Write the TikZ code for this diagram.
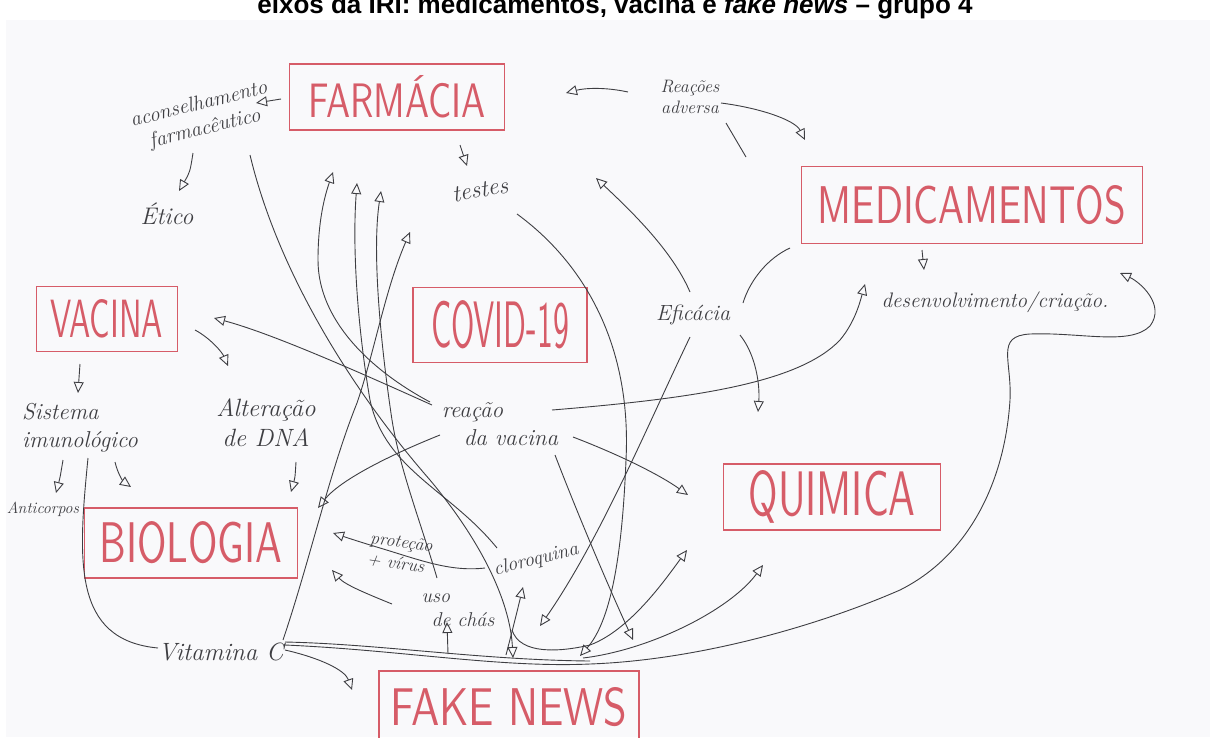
\documentclass[tikz,border=0pt]{standalone}
\usepackage{fontspec}
\usepackage{graphicx}
\usetikzlibrary{arrows.meta,calc}
\newfontfamily\titlefont{Liberation Sans}
\definecolor{ink}{RGB}{62,62,66}
\definecolor{redpen}{RGB}{214,92,104}
\definecolor{paper}{RGB}{249,249,251}
\tikzset{
  topic/.style={draw=redpen, line width=1.2pt, inner sep=0pt, text=redpen},
  note/.style={text=ink, inner sep=1pt, align=center},
  link/.style={draw=ink, line width=0.9pt, -{Triangle[open,length=11pt,width=10pt,line width=0.9pt]}},
  plain/.style={draw=ink, line width=0.9pt},
}
% topic label stretched to a given width and cap height
\newcommand{\topictext}[3]{\resizebox{#1pt}{#2pt}{\sffamily #3}}
\newcommand{\hand}[1]{\itshape\fontsize{#1}{1.2\dimexpr#1pt\relax}\selectfont}
\begin{document}
\begin{tikzpicture}[x=1pt,y=-1pt]
\useasboundingbox (0,0) rectangle (1210,737);
\fill[white] (0,0) rectangle (1210,737);
\fill[paper] (6,20) rectangle (1210,737);

\node[anchor=base, font=\titlefont\bfseries\fontsize{26}{26}\selectfont] (title) at (615,13)
  {eixos da IRI: medicamentos, vacina e \textit{fake news} – grupo 4};

% topics
\node[topic, minimum width=215pt, minimum height=66pt] (farm) at (397,97) {\topictext{177}{42}{FARMÁCIA}};
\node[topic, minimum width=341pt, minimum height=77pt] (medic) at (972,205) {\topictext{308}{38}{MEDICAMENTOS}};
\node[topic, minimum width=141pt, minimum height=65pt] (vacina) at (107,319) {\topictext{112}{38}{VACINA}};
\node[topic, minimum width=174pt, minimum height=75pt] (covid) at (500,325) {\topictext{138}{47}{COVID-19}};
\node[topic, minimum width=217pt, minimum height=66pt] (quim) at (832,497) {\topictext{167}{45}{QUIMICA}};
\node[topic, minimum width=213pt, minimum height=70pt] (bio) at (191,543) {\topictext{183}{41}{BIOLOGIA}};
\node[topic, minimum width=260pt, minimum height=72pt] (fake) at (509,707) {\topictext{237}{38}{FAKE NEWS}};

% notes
\node[note, rotate=14, font=\hand{21}] (acons) at (202,117) {aconselhamento\\farmacêutico};
\node[note, font=\hand{24}] (etico) at (167,214) {Ético};
\node[note, rotate=10, font=\hand{24}] (testes) at (480,190) {testes};
\node[note, font=\hand{18}] (reacadv) at (690,97) {Reações\\adversa};
\node[note, font=\hand{22}] (efic) at (693,315) {Eficácia};
\node[note, font=\hand{21}] (desenv) at (995,302) {desenvolvimento/criação.};
\node[note, font=\hand{23}, align=left] (sist) at (80,428) {Sistema\\imunológico};
\node[note, font=\hand{25}] (alter) at (266,423) {Alteração\\de DNA};
\node[note, font=\hand{23}, align=left] (reacvac) at (500,424) {reação\\\hspace*{22pt}da vacina};
\node[note, font=\hand{16}] (antic) at (43,509) {Anticorpos};
\node[note, font=\hand{25}] (vitc) at (221,652) {Vitamina C};
\node[note, rotate=-8, font=\hand{18}, align=left] (protec) at (400,553) {proteção\\+ vírus};
\node[note, rotate=14, font=\hand{20}] (cloro) at (536,560) {cloroquina};
\node[note, font=\hand{20}, align=left] (chas) at (458,610) {uso\\\hspace*{10pt}de chás};

% links around Farmácia
\draw[link] ($(farm)+(-116,2)$) -- ($(acons)+(54,-14)$);
\draw[link] ($(acons)+(-9,36)$) .. controls (190,172) .. ($(etico)+(12,-23)$);
\draw[link] ($(farm)+(63,48)$) -- ($(testes)+(-13,-24)$);
\draw[link] ($(reacadv)+(-62,-5)$) .. controls (605,87) and (585,88) .. ($(farm)+(169,-4)$);
\draw[link] ($(reacadv)+(31,6)$) .. controls (760,108) and (795,120) .. ($(medic)+(-167,-65)$);
\draw[plain] ($(reacadv)+(36,26)$) -- ($(reacadv)+(56,60)$);

% links around Medicamentos and Eficácia
\draw[link] ($(medic)+(-50,45)$) -- ($(desenv)+(-71,-32)$);
\draw[plain] ($(efic)+(50,-12)$) .. controls (750,280) and (768,258) .. ($(medic)+(-182,43)$);
\draw[link] ($(efic)+(-3,-23)$) .. controls (672,250) and (630,210) .. ($(testes)+(116,-12)$);
\draw[link] ($(efic)+(47,20)$) .. controls (756,355) and (760,385) .. ($(quim)+(-74,-85)$);
\draw[link] ($(efic)+(-3,22)$) .. controls (650,420) and (600,540) .. ($(fake)+(31,-81)$);

% links around Vacina
\draw[link] ($(reacvac)+(-68,-19)$) .. controls (350,368) and (270,333) .. ($(vacina)+(107,-1)$);
\draw[link] ($(vacina)+(88,11)$) .. controls (210,338) and (222,352) .. ($(alter)+(-38,-57)$);
\draw[link] ($(vacina)+(-27,45)$) .. controls (79,378) .. ($(sist)+(-2,-35)$);
\draw[link] ($(sist)+(-17,32)$) .. controls (60,478) .. ($(antic)+(13,-16)$);
\draw[link] ($(sist)+(35,34)$) .. controls (118,475) and (124,482) .. ($(bio)+(-60,-56)$);
\draw[link] ($(alter)+(30,39)$) .. controls (295,478) .. ($(bio)+(100,-51)$);
\draw[plain] ($(sist)+(8,30)$) .. controls (78,560) and (72,640) .. ($(vitc)+(-63,-4)$);

% links from Vitamina C
\draw[link] ($(vitc)+(64,-2)$) .. controls (320,658) and (345,670) .. ($(fake)+(-157,-17)$);
\draw[link] ($(vitc)+(64,-7)$) .. controls (400,650) and (500,668) .. (590,664)
  .. controls (700,660) and (820,625) .. (900,590)
  .. controls (970,555) and (1005,480) .. (1010,400)
  .. controls (1012,360) and (995,336) .. (1030,334)
  .. controls (1080,332) and (1130,346) .. (1150,326)
  .. controls (1166,305) and (1140,282) .. ($(desenv)+(125,-29)$);
\draw[plain] ($(vitc)+(64,-10)$) .. controls (380,644) and (480,660) .. ($(fake)+(81,-46)$);
\draw[link] ($(vitc)+(62,-12)$) .. controls (310,560) and (330,470) .. (357,403)
  .. controls (375,350) and (385,290) .. ($(farm)+(13,135)$);

% links from reação da vacina
\draw[link] ($(reacvac)+(-60,11)$) .. controls (390,455) and (340,480) .. ($(bio)+(127,-35)$);
\draw[link] ($(reacvac)+(52,-14)$) .. controls (700,398) and (800,382) .. (840,340)
  .. controls (855,322) and (860,302) .. ($(desenv)+(-130,-18)$);
\draw[link] ($(reacvac)+(73,13)$) .. controls (620,455) and (660,475) .. ($(quim)+(-144,-2)$);
\draw[link] ($(reacvac)+(55,31)$) .. controls (580,520) and (610,590) .. ($(fake)+(124,-67)$);
\draw[link] ($(reacvac)+(-70,-22)$) .. controls (370,370) and (318,320) .. (318,260)
  .. controls (318,220) and (325,195) .. ($(farm)+(-64,75)$);

% long links through the middle
\draw[link] ($(testes)+(37,24)$) .. controls (580,260) and (632,340) .. (626,460)
  .. controls (622,560) and (610,622) .. ($(fake)+(71,-51)$);
\draw[link] ($(acons)+(48,38)$) .. controls (280,280) and (360,400) .. (430,480)
  .. controls (480,540) and (510,600) .. ($(fake)+(4,-49)$);
\draw[link] ($(cloro)+(-39,-12)$) .. controls (450,490) and (385,470) .. (370,400)
  .. controls (358,330) and (352,250) .. ($(farm)+(-40,86)$);
\draw[link] ($(protec)+(37,25)$) .. controls (420,520) and (400,470) .. (392,420)
  .. controls (380,340) and (372,250) .. ($(farm)+(-16,94)$);

% links near Fake News
\draw[link] ($(cloro)+(-51,8)$) .. controls (450,572) and (420,560) .. (380,548)
  .. controls (360,542) and (345,537) .. ($(bio)+(142,-10)$);
\draw[link] ($(chas)+(-66,-6)$) .. controls (370,595) and (345,585) .. ($(bio)+(141,27)$);
\draw[link] ($(fake)+(-61,-53)$) -- ($(chas)+(-11,12)$);
\draw[link] ($(fake)+(-3,-52)$) .. controls (515,620) .. ($(cloro)+(-13,27)$);
\draw[link] ($(chas)+(54,20)$) .. controls (520,655) and (560,652) .. (590,645)
  .. controls (630,630) and (665,580) .. ($(quim)+(-145,53)$);
\draw[link] ($(fake)+(74,-49)$) .. controls (650,650) and (730,610) .. ($(quim)+(-69,68)$);
\end{tikzpicture}
\end{document}
